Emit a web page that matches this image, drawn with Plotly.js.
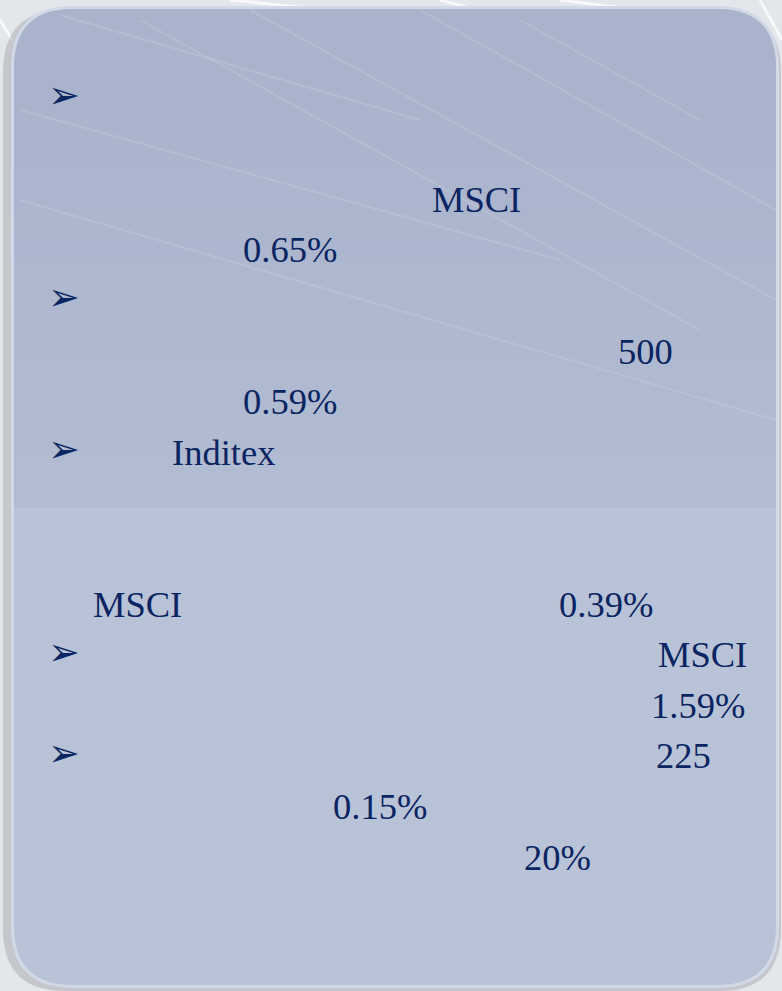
<!DOCTYPE html>
<html>
<head>
<meta charset="utf-8">
<script src="https://cdn.plot.ly/plotly-3.0.1.min.js"></script>
<style>html,body{margin:0;padding:0;background:#e3e6eb;}#chart{width:782px;height:991px;}</style>
</head>
<body>
<div id="chart"></div>
<script>
// ---- content (text fragments of the slide) ----
const tokens     = ["MSCI", "0.65%", "500", "0.59%", "Inditex", "MSCI", "0.39%", "MSCI", "1.59%", "225", "0.15%", "20%"];
const tokenLines = [2, 3, 5, 6, 7, 10, 10, 11, 12, 13, 14, 15];
const tokenCols  = [431, 242, 617, 242, 171, 92, 558, 657, 650, 655, 332, 523];
const bulletLines = [0, 4, 7, 11, 13];
const bulletGlyph = "\u27A2";

// ---- layout constants ----
const W = 782, H = 991;
const baseline0 = 110, lineStep = 50.6;
const textColor = "#0b2462";
const fontSize = 36.5;

function rr(x0, y0, x1, y1, r) {
  return `M${x0+r},${y0} L${x1-r},${y0} Q${x1},${y0} ${x1},${y0+r} L${x1},${y1-r} Q${x1},${y1} ${x1-r},${y1} L${x0+r},${y1} Q${x0},${y1} ${x0},${y1-r} L${x0},${y0+r} Q${x0},${y0} ${x0+r},${y0} Z`;
}
function rrTop(x0, y0, x1, y1, r) {
  return `M${x0+r},${y0} L${x1-r},${y0} Q${x1},${y0} ${x1},${y0+r} L${x1},${y1} L${x0},${y1} L${x0},${y0+r} Q${x0},${y0} ${x0+r},${y0} Z`;
}
function mix(a, b, t) {
  const pa = [1,3,5].map(i => parseInt(a.substr(i,2),16));
  const pb = [1,3,5].map(i => parseInt(b.substr(i,2),16));
  return "rgb(" + pa.map((v,i) => Math.round(v + (pb[i]-v)*t)).join(",") + ")";
}

const shapes = [];
// outer background streaks
const bgStreaks = [[230,0,330,10],[560,0,640,10],[760,0,782,40],[0,20,12,40],[440,0,470,8]];
bgStreaks.forEach(s => shapes.push({type:"line", x0:s[0], y0:s[1], x1:s[2], y1:s[3], line:{color:"rgba(255,255,255,0.7)", width:3}, layer:"below"}));
// shadow
shapes.push({type:"path", path: rr(3, 10, 781, 991, 62), fillcolor:"rgba(140,140,150,0.35)", line:{width:0}, layer:"below"});
// panel border
shapes.push({type:"path", path: rr(11, 6, 779, 988, 62), fillcolor:"#d2d9e6", line:{width:0}, layer:"below"});
// panel body (lower colour)
shapes.push({type:"path", path: rr(14, 9, 776, 985, 59), fillcolor:"#b8c3d8", line:{width:0}, layer:"below"});
// upper section
shapes.push({type:"path", path: rrTop(14, 9, 776, 508, 59), fillcolor:"#a9b4cc", line:{width:0}, layer:"below"});
const c0 = "#a9b4cc", c1 = "#b2bdd3";
for (let y = 70; y < 508; y += 24) {
  const y2 = Math.min(y + 24, 508);
  shapes.push({type:"rect", x0:14, x1:776, y0:y, y1:y2, fillcolor: mix(c0, c1, (y-70)/438), line:{width:0}, layer:"below"});
}
// faint streaks in upper section
const streaks = [[60,15,420,120],[140,20,700,330],[20,110,560,260],[250,10,776,300],[420,10,776,210],[20,200,776,420],[520,20,700,120]];
streaks.forEach(s => shapes.push({type:"line", x0:s[0], y0:s[1], x1:s[2], y1:s[3], line:{color:"rgba(255,255,255,0.12)", width:2}, layer:"below"}));

const annotations = [];
tokens.forEach((t, i) => {
  const base = baseline0 + lineStep * tokenLines[i];
  annotations.push({x: tokenCols[i], y: base - 12, xref:"x", yref:"y", text: t, showarrow:false,
    xanchor:"left", yanchor:"middle", borderpad:0,
    font:{family:"Liberation Serif, Times New Roman, serif", size: fontSize, color: textColor}});
});
bulletLines.forEach(l => {
  const base = baseline0 + lineStep * l;
  annotations.push({x: 47, y: base - 15, xref:"x", yref:"y", text: bulletGlyph, showarrow:false,
    xanchor:"left", yanchor:"middle", borderpad:0,
    font:{family:"DejaVu Sans, sans-serif", size: 38, color: textColor}});
});

const layout = {
  width: W, height: H,
  margin: {l:0, r:0, t:0, b:0},
  paper_bgcolor: "#e3e6eb", plot_bgcolor: "rgba(0,0,0,0)",
  xaxis: {range:[0, W], visible:false, fixedrange:true},
  yaxis: {range:[H, 0], visible:false, fixedrange:true},
  shapes: shapes, annotations: annotations, showlegend:false
};
Plotly.newPlot("chart", [{x:[0], y:[0], mode:"markers", marker:{opacity:0}, hoverinfo:"skip"}], layout, {staticPlot:true});
</script>
</body>
</html>
